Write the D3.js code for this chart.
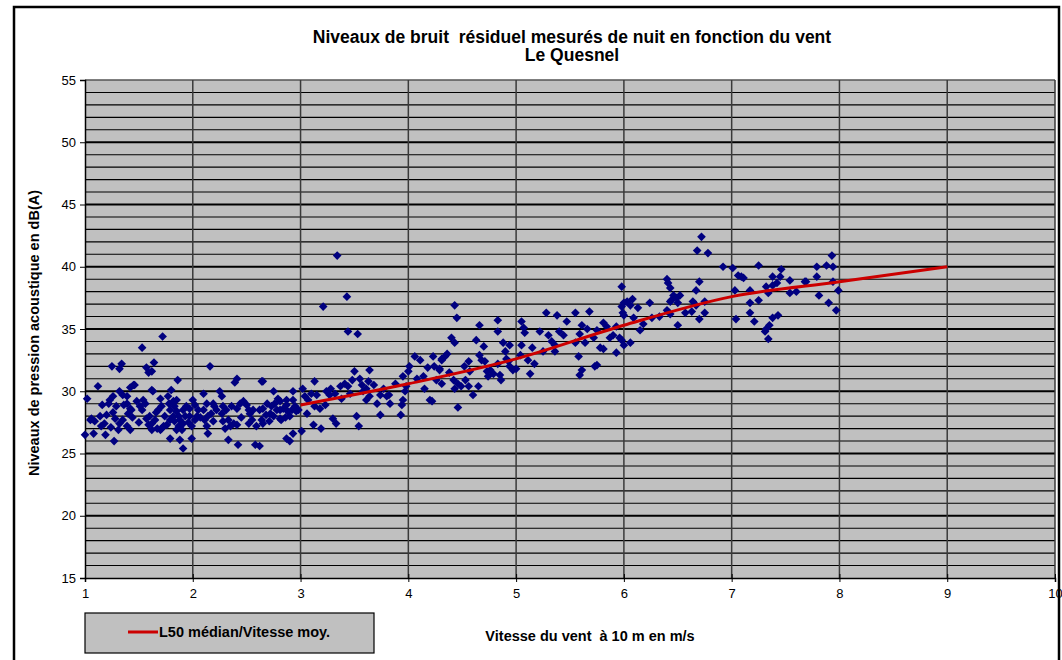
<!DOCTYPE html>
<html><head><meta charset="utf-8">
<script src="https://cdn.jsdelivr.net/npm/d3@7"></script>
<style>body{margin:0;background:#fff}text{font-family:Arial,"Liberation Sans",sans-serif}</style>
</head><body><svg id="c" width="1062" height="660"></svg>
<script>
const titleLines = ["Niveaux de bruit  résiduel mesurés de nuit en fonction du vent", "Le Quesnel"];
const yTitle = "Niveaux de pression acoustique en dB(A)";
const xTitle = "Vitesse du vent  à 10 m en m/s";
const legendLabel = "L50 médian/Vitesse moy.";
const xTicks = [1,2,3,4,5,6,7,8,9,10];
const yTicks = [15,20,25,30,35,40,45,50,55];
const medianX = [3,4,5,6,7,8,9];
const medianY = [28.9,30.6,32.6,35.3,37.6,38.8,40.0];
const windX = [1.72,1.53,1.25,1.32,1.34,1.57,1.59,1.64,1.62,1.12,1.86,2.16,2.39,2.41,2.64,1.02,1.0,1.08,1.19,1.27,1.79,1.88,1.91,1.99,2.14,2.33,2.42,2.58,
1.06,1.09,1.05,1.14,1.15,1.18,1.23,1.26,1.22,1.26,1.29,1.28,1.32,1.35,1.39,1.42,1.45,1.46,1.39,1.42,1.40,1.43,1.32,1.35,1.39,1.42,1.31,
1.48,1.51,1.54,1.53,1.57,1.60,1.62,1.59,1.65,1.67,1.62,1.62,1.63,1.70,1.71,1.68,1.73,1.76,1.70,1.71,
1.77,1.80,1.82,1.85,1.83,1.79,1.85,1.87,1.82,1.79,1.83,1.88,1.87,1.91,1.90,1.85,1.91,1.94,1.93,
1.97,2.00,2.02,1.97,2.02,1.99,2.05,2.04,2.10,2.13,2.10,2.14,2.11,2.17,2.19,2.22,2.13,2.19,
2.25,2.27,2.28,2.27,2.31,2.28,2.33,2.35,2.38,2.41,2.44,2.47,2.41,2.36,2.52,2.53,2.55,2.52,2.56,2.62,2.64,2.59,
3.34,3.43,3.21,3.44,3.53,2.65,2.75,2.93,3.02,3.13,2.65,2.82,2.93,2.87,2.90,3.01,3.12,3.19,3.30,3.33,3.52,3.54,3.74,3.93,2.62,
2.65,2.69,2.73,2.76,2.72,2.78,2.81,2.84,2.87,2.88,2.92,2.95,2.96,2.90,2.81,2.75,2.93,2.87,2.81,
3.04,3.07,3.10,3.15,3.13,3.18,3.23,3.24,3.27,3.32,3.37,3.38,3.41,3.44,3.46,3.50,3.55,3.57,3.58,3.61,3.64,3.63,3.64,3.61,3.71,3.74,3.77,3.80,3.83,3.82,
3.95,3.98,4.00,4.01,3.94,3.95,3.97,4.06,4.11,4.14,4.15,4.23,4.24,4.20,4.22,4.29,4.31,4.26,
4.43,4.45,4.66,4.83,4.83,4.40,4.43,4.63,4.34,4.36,4.31,4.29,4.31,4.42,4.43,4.46,4.49,4.53,4.56,4.60,4.65,4.46,
4.56,4.57,4.66,4.68,4.71,4.73,4.74,4.76,4.79,4.83,4.85,4.86,4.90,4.91,4.93,4.94,4.94,4.97,5.00,
5.05,5.07,5.08,5.05,5.04,5.11,5.13,5.17,5.22,5.28,5.30,5.25,5.36,5.38,5.40,5.44,5.36,
5.55,5.68,5.61,5.59,5.55,5.64,5.58,5.72,5.75,5.81,5.84,5.81,5.87,5.90,5.93,5.96,5.99,5.98,5.93,5.75,5.73,5.61,5.59,
6.72,6.68,6.78,6.92,7.01,7.06,7.09,7.11,7.25,7.46,7.45,7.38,7.32,7.34,7.38,7.42,7.54,7.54,7.60,7.68,
7.03,7.17,7.17,7.25,7.17,7.21,7.04,7.43,7.38,7.35,7.32,7.31,7.34,
6.40,6.41,6.43,6.46,6.44,6.49,6.52,6.50,6.43,6.40,6.43,6.50,6.64,6.63,6.67,6.70,6.75,6.75,6.70,6.67,6.26,6.24,6.13,6.08,6.15,
5.98,6.00,6.03,6.06,6.00,5.98,6.00,6.06,6.09,
7.93,7.88,7.94,7.79,7.79,7.69,7.94,7.99,7.81,7.90,7.97,
1.16,1.20,1.24,1.36,1.44,1.50,1.56,1.66,1.74,1.78,1.96,2.07,2.20,2.30,2.45,2.50,2.68,2.71,2.79,2.86,2.98,3.06,3.28,3.48,3.68,3.88,4.08,4.18,4.38,4.52,4.70,4.88,5.15,5.33,5.47,5.66,5.78,6.18,6.33,6.57];
const levelY = [34.4,33.5,32.0,31.8,32.2,31.9,31.5,32.3,31.6,30.4,30.9,32.0,30.7,31.0,30.8,29.4,26.5,26.6,26.5,26.0,26.2,26.1,25.4,26.2,26.6,26.1,25.7,25.7,
27.8,27.6,27.7,28.0,27.2,27.4,29.3,29.6,29.0,28.3,28.8,27.8,30.0,29.7,29.6,30.3,30.5,30.5,29.0,28.6,28.2,28.5,27.4,27.7,27.2,26.9,26.9,
29.2,28.8,29.3,28.5,27.8,28.0,27.4,27.3,27.7,27.0,26.9,30.1,30.0,29.4,28.8,28.5,27.2,27.3,26.9,27.0,
29.6,30.1,29.2,29.3,28.8,28.5,28.4,28.0,28.0,27.7,27.6,27.7,27.2,27.4,26.9,26.9,28.5,28.8,28.0,
28.6,29.3,28.9,28.0,27.7,27.2,28.5,28.0,29.8,29.0,28.5,28.0,27.7,28.2,29.0,28.5,27.2,27.6,
30.0,29.6,28.8,28.2,28.5,27.6,27.7,27.2,27.4,27.3,29.0,29.2,28.6,28.8,28.5,28.2,27.7,27.4,28.5,28.5,27.7,27.2,
40.9,37.6,36.8,34.8,34.6,30.8,30.0,30.0,30.2,30.8,27.4,27.7,26.6,26.2,26.0,26.8,27.3,27.0,27.8,27.4,28.0,27.2,28.1,28.1,25.6,
28.6,29.0,28.8,29.0,28.2,28.5,28.5,28.6,28.9,28.4,28.5,28.8,28.4,28.0,27.8,28.0,29.3,29.3,29.2,
29.6,29.3,29.8,29.7,28.8,28.6,28.9,30.0,29.7,29.8,30.4,29.4,30.6,30.4,29.8,31.6,31.0,30.5,30.0,30.2,31.7,30.8,29.6,29.3,29.0,29.7,30.2,29.6,29.0,29.7,
31.2,30.4,31.6,32.0,28.9,29.3,30.0,32.8,32.5,31.2,30.2,32.8,32.0,29.3,29.2,31.7,32.6,30.9,
36.9,35.9,35.3,35.7,34.8,34.3,33.9,34.1,32.8,33.0,32.5,31.8,30.6,30.9,30.2,30.6,30.4,30.9,30.4,29.7,30.4,28.7,
32.4,31.6,32.9,32.5,32.4,31.6,31.2,31.7,31.4,32.2,31.3,30.9,33.2,32.6,32.4,33.7,32.0,31.7,31.8,
35.6,35.1,34.7,33.7,32.9,32.5,31.4,32.2,34.8,36.3,34.5,33.2,33.2,36.1,34.8,34.5,33.7,
36.3,36.4,35.3,34.6,33.9,33.9,32.8,34.3,34.9,35.5,35.2,33.4,34.3,34.5,35.2,34.3,36.3,36.8,33.1,32.1,32.0,31.7,31.3,
42.4,41.3,41.1,40.0,39.9,39.3,39.2,39.1,40.1,39.8,39.2,39.2,38.4,37.9,38.5,38.7,38.9,37.9,38.0,38.8,
38.1,38.1,37.1,37.3,36.3,35.6,35.8,36.1,35.9,35.3,35.0,34.8,34.2,
39.0,38.7,38.3,37.7,37.3,37.5,37.7,37.1,37.2,36.5,36.2,35.3,37.2,36.4,38.1,38.8,37.2,36.3,35.8,36.9,35.9,37.1,36.7,37.4,34.9,
38.4,37.1,37.2,36.9,36.1,34.1,33.7,33.9,35.9,
40.9,40.1,40.0,40.0,39.2,38.8,38.8,38.1,37.7,37.1,36.5,
28.9,28.1,27.1,28.9,27.9,27.5,29.0,28.3,28.0,29.0,27.5,27.9,28.8,27.0,27.9,28.9,28.1,27.6,29.4,27.9,28.5,28.2,30.2,30.9,30.5,30.6,31.0,31.9,31.5,32.0,33.6,33.9,33.5,34.0,35.6,35.0,33.5,35.4,36.0,36.3];

const svg = d3.select("#c");
const x = d3.scaleLinear().domain([1,10]).range([85,1055]);
const y = d3.scaleLinear().domain([15,55]).range([578,80]);

// outer frame
svg.append("rect").attr("x",14).attr("y",7).attr("width",1045).attr("height",680)
  .attr("fill","#fff").attr("stroke","#000").attr("stroke-width",2.5);

// plot bg
svg.append("rect").attr("x",x(1)).attr("y",y(55)).attr("width",x(10)-x(1)).attr("height",y(15)-y(55))
  .attr("fill","#C0C0C0");

// horizontal gridlines
const hg = d3.range(16,55);
svg.append("g").selectAll("line").data(hg).join("line")
  .attr("x1",x(1)).attr("x2",x(10)).attr("y1",d=>y(d)).attr("y2",d=>y(d))
  .attr("stroke","#000").attr("stroke-width",d=>d%5===0?2.2:1.1);
svg.append("line").attr("x1",x(1)).attr("x2",x(10)).attr("y1",y(55)).attr("y2",y(55))
  .attr("stroke","#555").attr("stroke-width",1.5);
// vertical gridlines
svg.append("g").selectAll("line").data(xTicks.slice(1)).join("line")
  .attr("x1",d=>x(d)).attr("x2",d=>x(d)).attr("y1",y(55)).attr("y2",y(15))
  .attr("stroke","#3a3a3a").attr("stroke-width",1.5);

// axes
const yAxis = d3.axisLeft(y).tickValues(yTicks).tickSize(5).tickPadding(4);
const gy = svg.append("g").attr("transform",`translate(${x(1)},0)`).call(yAxis);
const xAxis = d3.axisBottom(x).tickValues(xTicks).tickSize(4).tickPadding(7);
const gx = svg.append("g").attr("transform",`translate(0,${y(15)})`).call(xAxis);
[gy,gx].forEach(g=>{
  g.select(".domain").attr("stroke","#000").attr("stroke-width",1.5);
  g.selectAll(".tick line").attr("stroke","#000");
  g.selectAll(".tick text").attr("font-size",13).attr("fill","#000").attr("font-family","Arial, Liberation Sans, sans-serif");
});
gx.selectAll(".tick line").attr("y1",-4);

// scatter
const pts = windX.map((v,i)=>[v,levelY[i]]);
const diamond = d3.symbol().type(d3.symbolDiamond2).size(48);
svg.append("g").selectAll("path").data(pts).join("path")
  .attr("d",diamond).attr("transform",d=>`translate(${x(d[0])},${y(d[1])})`)
  .attr("fill","#000080");

// median line
const line = d3.line().x(d=>x(d[0])).y(d=>y(d[1])).curve(d3.curveMonotoneX);
svg.append("path").datum(medianX.map((v,i)=>[v,medianY[i]])).attr("d",line)
  .attr("fill","none").attr("stroke","#CC0000").attr("stroke-width",3);

// titles
svg.append("text").attr("x",572).attr("y",43).attr("text-anchor","middle")
  .attr("font-size",17.5).attr("font-weight","bold").style("white-space","pre").text(titleLines[0]);
svg.append("text").attr("x",572).attr("y",61).attr("text-anchor","middle")
  .attr("font-size",17.5).attr("font-weight","bold").text(titleLines[1]);
svg.append("text").attr("transform","translate(39,333) rotate(-90)").attr("text-anchor","middle")
  .attr("font-size",14.5).attr("font-weight","bold").text(yTitle);
svg.append("text").attr("x",590).attr("y",641).attr("text-anchor","middle")
  .attr("font-size",14.5).attr("font-weight","bold").style("white-space","pre").text(xTitle);

// legend
svg.append("rect").attr("x",85).attr("y",613).attr("width",289).attr("height",40)
  .attr("fill","#C0C0C0").attr("stroke","#000").attr("stroke-width",1.2);
svg.append("line").attr("x1",128).attr("x2",158).attr("y1",632).attr("y2",632)
  .attr("stroke","#CC0000").attr("stroke-width",3);
svg.append("text").attr("x",159).attr("y",637).attr("font-size",14.5).attr("font-weight","bold").text(legendLabel);
</script></body></html>
